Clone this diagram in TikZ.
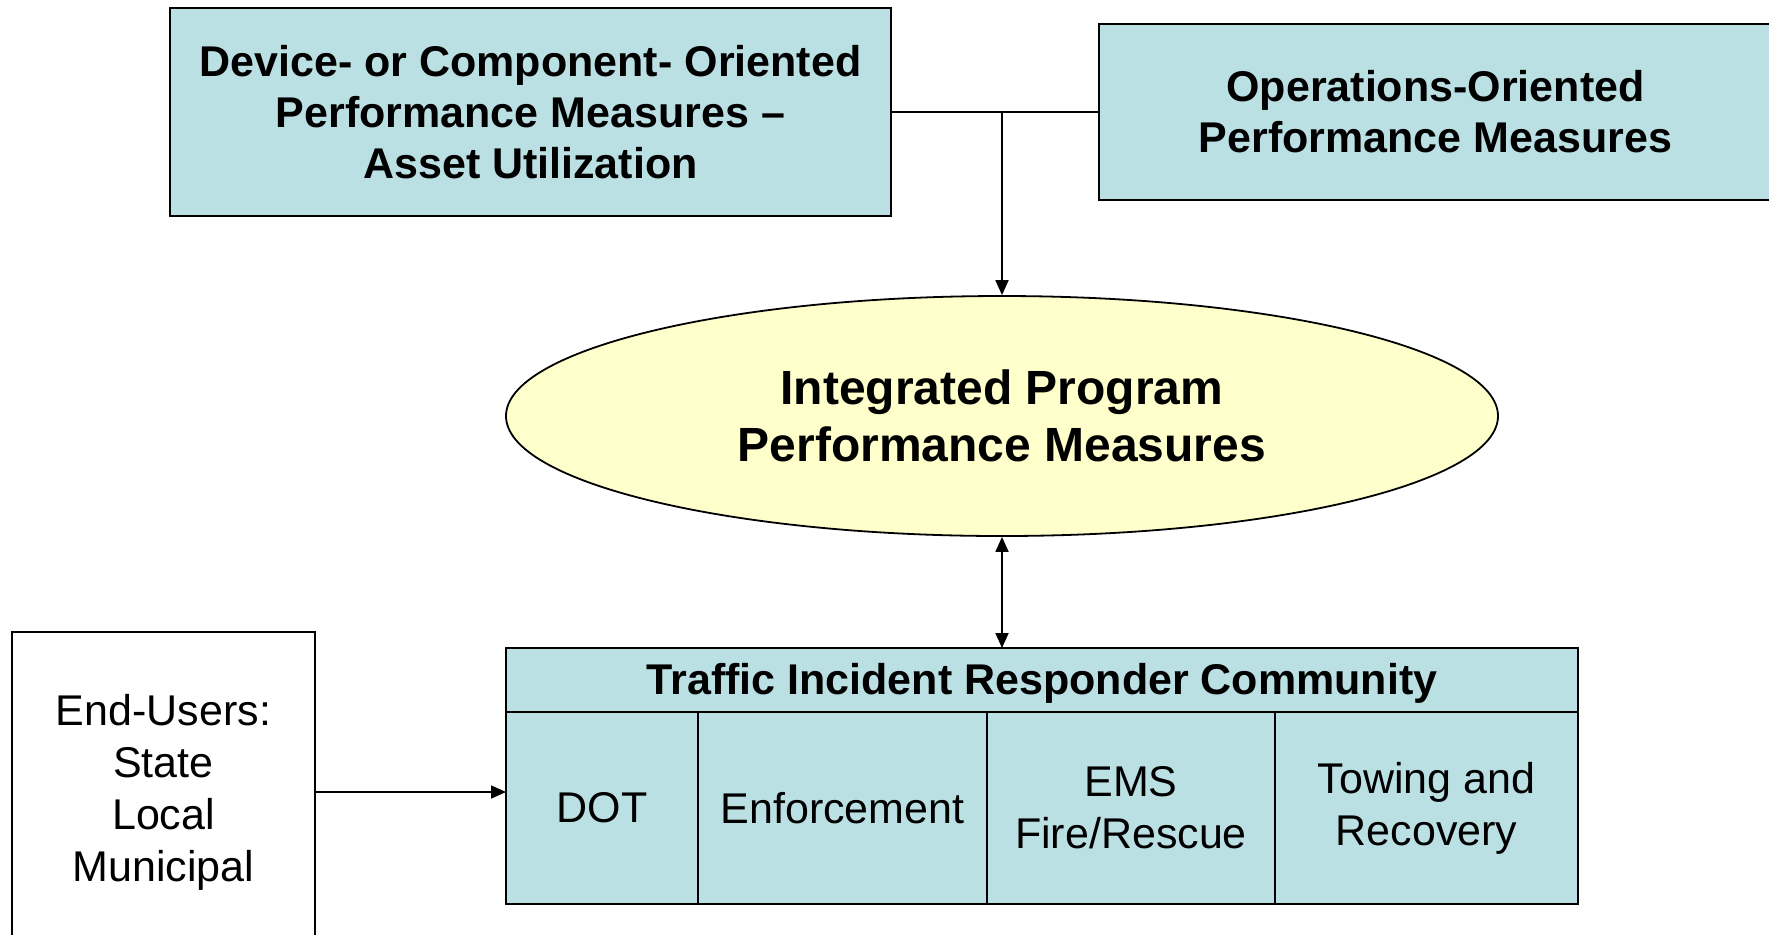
\documentclass[tikz,border=0pt]{standalone}
\usepackage{fontspec}
\setmainfont{Liberation Sans}
\usetikzlibrary{positioning, calc}
\usetikzlibrary{arrows.meta}
\usetikzlibrary{shapes.geometric}
\definecolor{boxblue}{RGB}{187,224,227}
\definecolor{ovalyellow}{RGB}{255,255,204}
\tikzstyle{measurebox}=[rectangle,draw=black,line width=1.3pt,fill=boxblue,align=center,inner sep=0pt,font=\fontsize{21.5pt}{25.5pt}\selectfont\bfseries]
\tikzstyle{headbox}=[measurebox,line width=1pt,outer sep=0pt,text height=19pt,text depth=4.5pt]
\tikzstyle{cellbox}=[rectangle,draw=black,line width=1pt,fill=boxblue,align=center,inner sep=0pt,outer sep=0pt,minimum height=96pt,font=\fontsize{21.5pt}{26pt}\selectfont]
\tikzstyle{userbox}=[rectangle,draw=black,line width=1pt,fill=white,align=center,inner sep=0pt,font=\fontsize{21.5pt}{26pt}\selectfont]
\tikzstyle{ovalnode}=[ellipse,draw=black,line width=0.9pt,fill=ovalyellow,align=center,inner sep=0pt,font=\fontsize{24pt}{28.5pt}\selectfont\bfseries]
\tikzstyle{edgepath}=[line width=0.9pt,-{Triangle[length=7.5pt,width=6.5pt]}]

\begin{document}
\begin{tikzpicture}[x=0.5pt,y=-0.5pt]
    \useasboundingbox (0,0) rectangle (1769,934);

    \node[measurebox, minimum width=360.5pt, minimum height=104pt] (dev) at (530.5,112)
        {Device- or Component- Oriented\\Performance Measures --\\Asset Utilization};
    \node[measurebox, minimum width=336.5pt, minimum height=88pt] (ops) at (1435.5,112)
        {Operations-Oriented\\Performance Measures};

    \node[ovalnode, minimum width=496pt, minimum height=120pt] (ipm) at (1002,416)
        {Integrated Program\\Performance Measures};

    \node[headbox, minimum width=536pt, minimum height=32pt] (head) at (1042,680)
        {Traffic Incident Responder Community};
    \node[cellbox, minimum width=96pt, anchor=north west] (dot) at (head.south west) {DOT};
    \node[cellbox, minimum width=144.5pt, anchor=north west] (enf) at (dot.north east) {Enforcement};
    \node[cellbox, minimum width=144pt, anchor=north west] (ems) at (enf.north east) {EMS\\Fire/Rescue};
    \node[cellbox, minimum width=151.5pt, anchor=north west] (tow) at (ems.north east) {Towing and\\Recovery};

    \node[userbox, minimum width=151.5pt, minimum height=160pt] (eu) at (163.5,792)
        {End-Users:\\State\\Local\\Municipal};

    \coordinate (jn) at (ipm.north |- dev.east);
    \draw[line width=0.9pt] (dev.east) -- (ops.west);
    \draw[edgepath] (jn) -- (ipm.north);
    \draw[edgepath, {Triangle[length=7.5pt,width=6.5pt]}-{Triangle[length=7.5pt,width=6.5pt]}]
        (ipm.south) -- (ipm.south |- head.north);
    \draw[edgepath] (eu.east) -- (eu.east -| dot.west);
\end{tikzpicture}
\end{document}
